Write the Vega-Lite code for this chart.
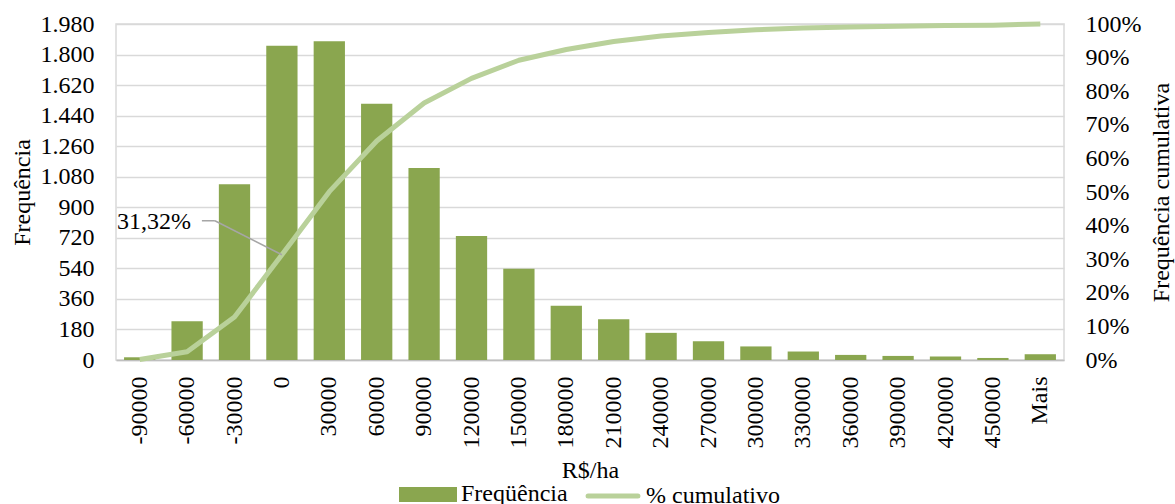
{
  "$schema": "https://vega.github.io/schema/vega-lite/v6.json",
  "width": 948,
  "height": 336,
  "autosize": {"type": "none"},
  "padding": {"left": 116, "top": 24, "right": 111, "bottom": 144},
  "background": "white",
  "config": {
    "locale": {"number": {"decimal": ",", "thousands": ".", "grouping": [3], "currency": ["R$", ""]}},
    "font": "Liberation Serif",
    "view": {"stroke": "#d9d9d9", "strokeWidth": 1.5},
    "axis": {
      "labelFont": "Liberation Serif",
      "titleFont": "Liberation Serif",
      "labelFontSize": 24,
      "titleFontSize": 24,
      "titleFontWeight": "normal",
      "labelColor": "#000000",
      "titleColor": "#000000",
      "ticks": false,
      "domain": false
    },
    "legend": {
      "labelFont": "Liberation Serif",
      "labelFontSize": 24,
      "labelColor": "#000000"
    }
  },
  "data": {
    "values": [
      {"faixa": "-90000", "freq": 16, "cum": 0.0016},
      {"faixa": "-60000", "freq": 228, "cum": 0.0244},
      {"faixa": "-30000", "freq": 1036, "cum": 0.128},
      {"faixa": "0", "freq": 1852, "cum": 0.3132},
      {"faixa": "30000", "freq": 1878, "cum": 0.501},
      {"faixa": "60000", "freq": 1510, "cum": 0.652},
      {"faixa": "90000", "freq": 1131, "cum": 0.7651},
      {"faixa": "120000", "freq": 731, "cum": 0.8382},
      {"faixa": "150000", "freq": 538, "cum": 0.892},
      {"faixa": "180000", "freq": 320, "cum": 0.924},
      {"faixa": "210000", "freq": 240, "cum": 0.948},
      {"faixa": "240000", "freq": 160, "cum": 0.964},
      {"faixa": "270000", "freq": 110, "cum": 0.975},
      {"faixa": "300000", "freq": 80, "cum": 0.983},
      {"faixa": "330000", "freq": 50, "cum": 0.988},
      {"faixa": "360000", "freq": 30, "cum": 0.991},
      {"faixa": "390000", "freq": 24, "cum": 0.9934},
      {"faixa": "420000", "freq": 20, "cum": 0.9954},
      {"faixa": "450000", "freq": 12, "cum": 0.9966},
      {"faixa": "Mais", "freq": 34, "cum": 1.0}
    ]
  },
  "encoding": {
    "x": {
      "field": "faixa",
      "type": "nominal",
      "sort": null,
      "scale": {"paddingInner": 0.34, "paddingOuter": 0.17},
      "axis": {
        "title": "R$/ha",
        "labelAngle": -90,
        "labelPadding": 16,
        "titlePadding": 10,
        "grid": false,
        "domain": true,
        "domainColor": "#bfbfbf",
        "domainWidth": 1.5
      }
    }
  },
  "layer": [
    {
      "mark": {"type": "bar"},
      "encoding": {
        "y": {
          "field": "freq",
          "type": "quantitative",
          "scale": {"domain": [0, 1980], "nice": false},
          "axis": {
            "title": "Frequência",
            "orient": "left",
            "values": [0, 180, 360, 540, 720, 900, 1080, 1260, 1440, 1620, 1800, 1980],
            "format": ",d",
            "labelPadding": 22,
            "titlePadding": 6,
            "grid": true,
            "gridColor": "#d9d9d9",
            "gridWidth": 1.5
          }
        },
        "color": {
          "datum": "Freqüência",
          "scale": {"domain": ["Freqüência", "% cumulativo"], "range": ["#8aa64f", "#b9d19a"]},
          "legend": {
            "title": null,
            "orient": "none",
            "legendX": 283,
            "legendY": 441,
            "direction": "horizontal",
            "symbolSize": 2809,
            "labelOffset": 4,
            "columnPadding": 10,
            "encode": {
              "symbols": {
                "update": {
                  "shape": {"signal": "datum.value === 'Freqüência' ? 'M-1,-0.19H1V0.19H-1Z' : 'M-0.94,0H0.94'"},
                  "fill": {"signal": "datum.value === 'Freqüência' ? '#8aa64f' : 'transparent'"},
                  "stroke": {"signal": "datum.value === 'Freqüência' ? 'transparent' : '#b9d19a'"},
                  "strokeWidth": {"value": 5},
                  "strokeCap": {"value": "round"},
                  "opacity": {"value": 1}
                }
              }
            }
          }
        }
      }
    },
    {
      "encoding": {
        "y": {
          "field": "cum",
          "type": "quantitative",
          "scale": {"domain": [0, 1], "nice": false},
          "axis": {
            "title": "Frequência cumulativa",
            "titleAngle": 270,
            "titleBaseline": "top",
            "orient": "right",
            "values": [0, 0.1, 0.2, 0.3, 0.4, 0.5, 0.6, 0.7, 0.8, 0.9, 1],
            "format": ".0%",
            "labelPadding": 21,
            "titlePadding": 9,
            "grid": false
          }
        }
      },
      "layer": [
        {
          "mark": {"type": "line", "strokeWidth": 5, "strokeCap": "butt", "strokeJoin": "round"},
          "encoding": {"color": {"datum": "% cumulativo"}}
        },
        {
          "transform": [{"filter": "datum.faixa === '0'"}],
          "mark": {"type": "rule", "color": "#a6a6a6", "strokeWidth": 1.5, "x2Offset": -67, "y2Offset": -34},
          "encoding": {
            "x2": {"field": "faixa"},
            "y2": {"field": "cum"}
          }
        },
        {
          "transform": [{"filter": "datum.faixa === '0'"}],
          "mark": {"type": "rule", "color": "#a6a6a6", "strokeWidth": 1.5, "xOffset": -67, "yOffset": -34, "x2Offset": -80, "y2Offset": -34},
          "encoding": {
            "x2": {"field": "faixa"},
            "y2": {"field": "cum"}
          }
        },
        {
          "transform": [{"filter": "datum.faixa === '0'"}],
          "mark": {"type": "text", "align": "right", "baseline": "middle", "dx": -91, "dy": -33, "fontSize": 24, "font": "Liberation Serif", "color": "#000000"},
          "encoding": {
            "text": {"field": "cum", "type": "quantitative", "format": ".2%"}
          }
        }
      ]
    }
  ],
  "resolve": {"scale": {"y": "independent"}}
}
